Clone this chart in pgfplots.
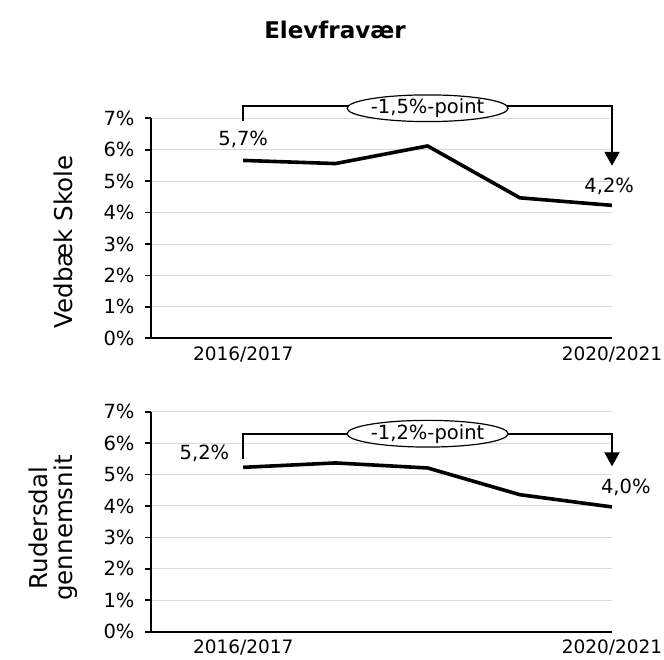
\documentclass[border=0pt]{standalone}
\usepackage{fontspec}
\setmainfont{DejaVu Sans}
\usepackage{pgfplots}
\pgfplotsset{compat=1.18}
\usetikzlibrary{arrows.meta,shapes.geometric}

\begin{document}
\begin{tikzpicture}
\path[use as bounding box] (0pt,0pt) rectangle (664pt,-659pt);
\pgfplotsset{panel/.style={
  scale only axis, width=461pt, height=220pt,
  xmin=-1, xmax=4, ymin=0, ymax=7,
  axis x line*=bottom, axis y line*=left,
  axis line style={-, line width=2pt, black},
  ytick={0,1,...,7},
  yticklabel={\pgfmathprintnumber{\tick}\%},
  /pgf/number format/assume math mode=true,
  xtick={0,4}, xticklabels={2016/2017,2020/2021},
  major x tick style={draw=none},
  tick align=outside, major tick length=6pt,
  ymajorgrids, grid style={black!15, line width=1pt},
  major y tick style={black, line width=1.8pt},
  clip=false,
  yticklabel style={font=\fontsize{19.5}{20}\selectfont, xshift=-7pt},
  xticklabel style={font=\fontsize{18.5}{20}\selectfont, yshift=1pt},
}}
\tikzset{
  brk/.style={line width=2pt, -{Triangle[width=15pt,length=14pt]}},
  ell/.style={ellipse, draw, line width=1.2pt, fill=white, minimum width=161pt, minimum height=24pt, inner sep=0pt, font=\fontsize{19.5}{20}\selectfont},
  dl/.style={font=\fontsize{19.5}{20}\selectfont, inner sep=0pt},
}

\node[font=\bfseries\fontsize{23}{26}\selectfont] at (335pt,-30pt) {Elevfravær};

\begin{axis}[panel, at={(151pt,-338.3pt)}, anchor=south west]
\addplot[black, line width=3.6pt, line join=round] coordinates {(0,5.66) (1,5.56) (2,6.12) (3,4.47) (4,4.23)};
\draw[brk] (axis cs:0,6.90) |- (axis cs:4,7.40) -- (axis cs:4,5.49);
\node[ell] at (axis cs:2,7.32) {-1,5\%-point};
\node[dl] at (axis cs:0,6.32) {5,7\%};
\node[dl] at (axis cs:3.97,4.83) {4,2\%};
\end{axis}

\begin{axis}[panel, at={(151pt,-631.7pt)}, anchor=south west]
\addplot[black, line width=3.6pt, line join=round] coordinates {(0,5.23) (1,5.37) (2,5.21) (3,4.36) (4,3.97)};
\draw[brk] (axis cs:0,5.50) |- (axis cs:4,6.30) -- (axis cs:4,5.26);
\node[ell] at (axis cs:2,6.30) {-1,2\%-point};
\node[dl] at (axis cs:-0.42,5.67) {5,2\%};
\node[dl] at (axis cs:4.15,4.60) {4,0\%};
\end{axis}

\node[rotate=90, font=\fontsize{24.5}{26}\selectfont] at (63pt,-242pt) {Vedbæk Skole};
\node[rotate=90, align=center, font=\fontsize{24.5}{25}\selectfont] at (53pt,-528pt) {Rudersdal\\gennemsnit};
\end{tikzpicture}
\end{document}
